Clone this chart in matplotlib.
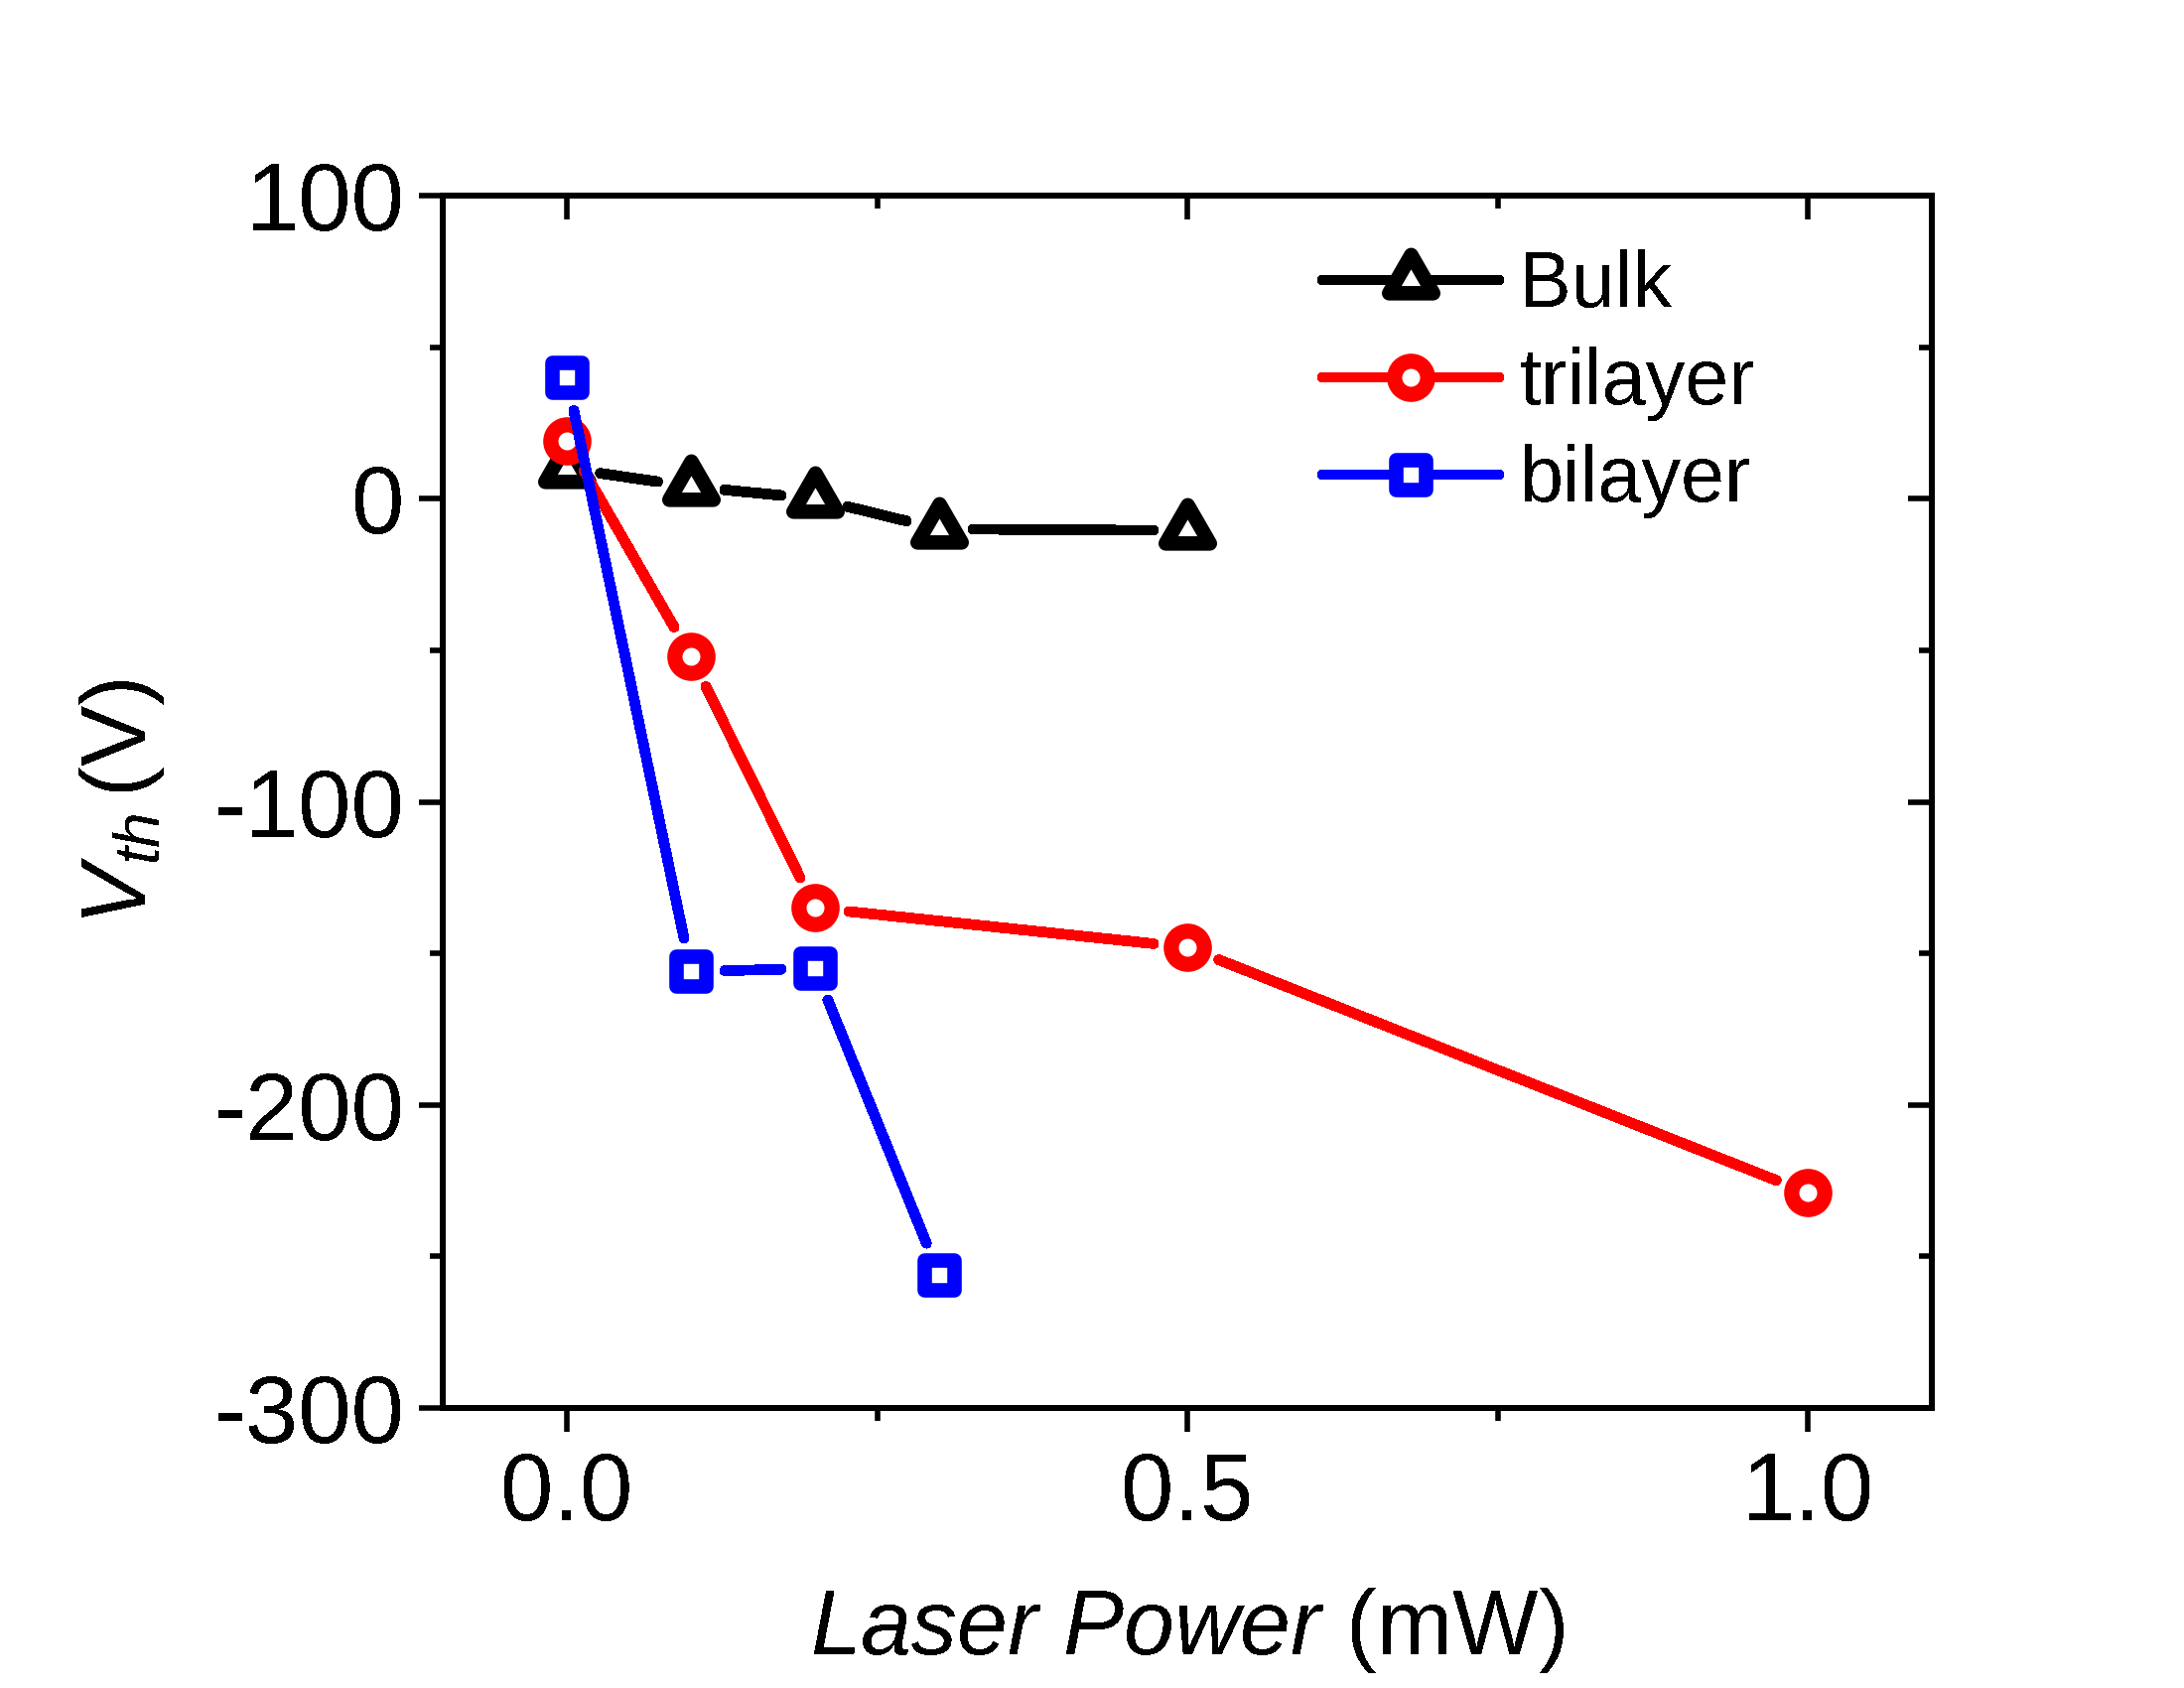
import matplotlib
matplotlib.use('Agg')
import matplotlib.pyplot as plt
from matplotlib.lines import Line2D
from matplotlib.markers import MarkerStyle
from matplotlib.path import Path
from matplotlib.ticker import MultipleLocator, FixedLocator, FormatStrFormatter

plt.rcParams['font.family'] = ['Liberation Sans', 'DejaVu Sans']
plt.rcParams['mathtext.fontset'] = 'custom'
plt.rcParams['mathtext.rm'] = 'Liberation Sans'
plt.rcParams['mathtext.it'] = 'Liberation Sans:italic'
plt.rcParams['axes.unicode_minus'] = False
plt.rcParams['lines.antialiased'] = False
plt.rcParams['patch.antialiased'] = False
plt.rcParams['text.antialiased'] = False

# ---- data ----
power_bulk = [0.0, 0.1, 0.2, 0.3, 0.5]
vth_bulk = [10, 4, 0, -10, -10.5]
power_tri = [0.0, 0.1, 0.2, 0.5, 1.0]
vth_tri = [19, -52, -135, -148, -229]
power_bi = [0.0, 0.1, 0.2, 0.3]
vth_bi = [40, -156, -155, -256]
series_labels = ['Bulk', 'trilayer', 'bilayer']
series_colors = ['#000000', '#ff0000', '#0000ff']
x_ticks = [0.0, 0.5, 1.0]
y_ticks = [-300, -200, -100, 0, 100]

# ---- figure ----
W, H = 2200, 1700
fig = plt.figure(figsize=(W / 100, H / 100), dpi=100)
ax = fig.add_axes([446 / W, 1 - 1418 / H, 1500 / W, 1221 / H])
ax.set_xlim(-0.1, 1.1)
ax.set_ylim(-300, 100)

# triangle marker centred on its centroid (Origin style)
tri_path = Path([(0, 1), (-0.8660254, -0.5), (0.8660254, -0.5), (0, 0)], closed=True)
markers = [
    dict(marker=MarkerStyle(tri_path), ms=37, mew=10.5),
    dict(marker='o', ms=24, mew=11),
    dict(marker=MarkerStyle('s', joinstyle='round'), ms=21.5, mew=10.5),
]

LW = 7
GAP = 24.5  # points between marker centre and line end

data = [(power_bulk, vth_bulk), (power_tri, vth_tri), (power_bi, vth_bi)]
for i, ((xs, ys), c, m) in enumerate(zip(data, series_colors, markers)):
    z = 3 + i
    for (x0, y0), (x1, y1) in zip(zip(xs[:-1], ys[:-1]), zip(xs[1:], ys[1:])):
        ax.annotate('', xy=(x1, y1), xytext=(x0, y0), xycoords='data',
                    arrowprops=dict(arrowstyle='-', color=c, lw=LW,
                                    shrinkA=GAP, shrinkB=GAP, capstyle='round',
                                    antialiased=False),
                    zorder=z)
    ax.plot(xs, ys, ls='none', marker=m['marker'], ms=m['ms'], mew=m['mew'],
            mfc='white', mec=c, zorder=z + 0.5, clip_on=False)

# ---- axes styling ----
SPW = 4.0
for s in ax.spines.values():
    s.set_linewidth(SPW)

ax.xaxis.set_major_locator(FixedLocator(x_ticks))
ax.xaxis.set_minor_locator(MultipleLocator(0.25))
ax.yaxis.set_major_locator(FixedLocator(y_ticks))
ax.yaxis.set_minor_locator(MultipleLocator(50))
ax.xaxis.set_major_formatter(FormatStrFormatter('%.1f'))
ax.yaxis.set_major_formatter(FormatStrFormatter('%d'))

ax.tick_params(which='both', direction='out', width=SPW, top=False, right=False,
               labelsize=69)
ax.tick_params(which='major', length=17.3)
ax.tick_params(which='minor', length=9.4)
ax.tick_params(axis='x', which='major', pad=14)
ax.tick_params(axis='y', which='major', pad=10.5)

secx = ax.secondary_xaxis('top')
secx.xaxis.set_major_locator(FixedLocator(x_ticks))
secx.xaxis.set_minor_locator(MultipleLocator(0.25))
secx.tick_params(which='both', direction='in', width=SPW, labeltop=False, labelbottom=False)
secx.tick_params(which='major', length=17.3)
secx.tick_params(which='minor', length=9.4)
secx.spines['top'].set_linewidth(SPW)

secy = ax.secondary_yaxis('right')
secy.yaxis.set_major_locator(FixedLocator(y_ticks))
secy.yaxis.set_minor_locator(MultipleLocator(50))
secy.tick_params(which='both', direction='in', width=SPW, labelright=False, labelleft=False)
secy.tick_params(which='major', length=17.3)
secy.tick_params(which='minor', length=9.4)
secy.spines['right'].set_linewidth(SPW)

ax.set_xlabel(r'$Laser\ Power$ (mW)', fontsize=66)
ax.set_ylabel(r'$V_{th}\,$(V)', fontsize=66)
ax.xaxis.set_label_coords(0.5, (1418 - 1597) / 1221)
ax.yaxis.set_label_coords((168 - 446) / 1500, 0.5)

# ---- legend ----
handles = [Line2D([], [], color=c, lw=LW, marker=m['marker'], ms=m['ms'], mew=m['mew'],
                  mfc='white', mec=c, solid_capstyle='round')
           for c, m in zip(series_colors, markers)]
ax.legend(handles, series_labels, loc='upper left', bbox_to_anchor=(0.5907, 0.9555),
          frameon=False, fontsize=57, handlelength=2.25, handletextpad=0.26,
          labelspacing=0.29, borderpad=0, borderaxespad=0, numpoints=1)

fig.savefig('out.png', dpi=100)
